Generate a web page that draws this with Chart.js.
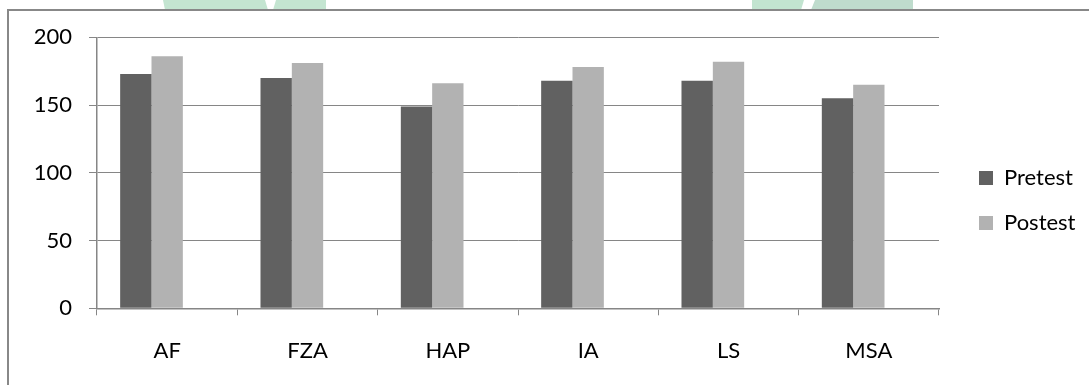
<!DOCTYPE html>
<html>
<head>
<meta charset="utf-8">
<script src="https://cdn.jsdelivr.net/npm/chart.js@4/dist/chart.umd.min.js"></script>
<style>
  html, body { margin: 0; padding: 0; background: #fff; }
  #wrap { width: 1089px; height: 385px; position: relative; }
</style>
</head>
<body>
<div id="wrap"><canvas id="c" width="1089" height="385"></canvas></div>
<script>
const categories = ['AF', 'FZA', 'HAP', 'IA', 'LS', 'MSA'];
const pretest = [173, 170, 149, 168, 168, 155];
const postest = [186, 181, 166, 178, 182, 165];
const seriesNames = ['Pretest', 'Postest'];
const yTickValues = [0, 50, 100, 150, 200];

const FONT = 'Lato';
const FS = 22;
const GRID = '#868686';

// legend geometry
const legendPad = 23;
const boxW = 14;
const mctx = document.createElement('canvas').getContext('2d');
mctx.font = FS + 'px ' + FONT;
const maxTextW = Math.max(...seriesNames.map(s => mctx.measureText(s).width));
const legendW = legendPad + boxW + FS / 2 + maxTextW + 10;
const plotRight = 939, legendLeft = 956;
const rightPad = Math.max(0, 1089 - legendLeft - legendW);

const decor = {
  id: 'decor',
  beforeDraw(chart) {
    const ctx = chart.ctx;
    ctx.save();
    ctx.fillStyle = '#fff';
    ctx.fillRect(0, 0, chart.width, chart.height);
    // faint watermark pieces above the frame
    ctx.fillStyle = '#c4e5d1';
    ctx.beginPath(); ctx.moveTo(163, 0); ctx.lineTo(265, 0); ctx.lineTo(268, 10); ctx.lineTo(165, 10); ctx.closePath(); ctx.fill();
    ctx.beginPath(); ctx.moveTo(276, 0); ctx.lineTo(326, 0); ctx.lineTo(326, 10); ctx.lineTo(273, 10); ctx.closePath(); ctx.fill();
    ctx.fillStyle = '#c2e4d0';
    ctx.beginPath(); ctx.moveTo(752, 0); ctx.lineTo(804, 0); ctx.lineTo(801, 10); ctx.lineTo(752, 10); ctx.closePath(); ctx.fill();
    ctx.fillStyle = '#bfdccd';
    ctx.beginPath(); ctx.moveTo(815, 0); ctx.lineTo(913, 0); ctx.lineTo(913, 10); ctx.lineTo(811, 10); ctx.closePath(); ctx.fill();
    // outer frame
    ctx.fillStyle = '#fff';
    ctx.fillRect(8, 10, chart.width, chart.height);
    ctx.strokeStyle = '#888888';
    ctx.lineWidth = 2;
    ctx.beginPath();
    ctx.moveTo(8, chart.height + 2); ctx.lineTo(8, 10); ctx.lineTo(chart.width + 2, 10);
    ctx.stroke();
    ctx.restore();
  }
};

new Chart(document.getElementById('c'), {
  type: 'bar',
  data: {
    labels: categories,
    datasets: [
      { label: seriesNames[0], data: pretest, backgroundColor: '#616161', borderWidth: 0 },
      { label: seriesNames[1], data: postest, backgroundColor: '#b2b2b2', borderWidth: 0 },
      { label: '', data: [], backgroundColor: 'rgba(0,0,0,0)', borderWidth: 0 }
    ]
  },
  options: {
    responsive: false,
    animation: false,
    devicePixelRatio: 1,
    categoryPercentage: 0.67,
    barPercentage: 1.0,
    layout: { padding: { top: 37.3, left: 0, bottom: 0, right: rightPad } },
    plugins: {
      tooltip: { enabled: false },
      legend: {
        position: 'right',
        fullSize: false,
        align: 'center',
        title: { display: true, text: '', font: { size: 10, lineHeight: 1 }, padding: { top: 45.4, bottom: 0 } },
        labels: {
          filter: (item) => item.datasetIndex < 2,
          boxWidth: boxW, boxHeight: 14, padding: legendPad,
          color: '#000',
          font: { family: FONT, size: FS }
        }
      }
    },
    scales: {
      x: {
        offset: true,
        grid: { display: true, drawOnChartArea: false, drawTicks: true, tickLength: 7, color: GRID, offset: true },
        border: { display: true, color: GRID, width: 1.5 },
        ticks: { color: '#000', padding: 22, font: { family: FONT, size: FS } },
        afterFit: (s) => { s.height = 385 - 308.3; }
      },
      y: {
        min: 0, max: 200,
        afterBuildTicks: (s) => { s.ticks = yTickValues.map(v => ({ value: v })); },
        grid: { color: GRID, lineWidth: 1, tickLength: 8, tickColor: GRID },
        border: { display: true, color: GRID, width: 1.5 },
        ticks: { color: '#000', padding: 17, font: { family: FONT, size: FS } },
        afterFit: (s) => { s.width = 97; }
      },
      spacer: {
        position: 'right',
        display: true,
        grid: { display: false, drawOnChartArea: false },
        border: { display: false },
        ticks: { display: false },
        afterFit: (s) => { s.width = legendLeft - plotRight; }
      }
    }
  },
  plugins: [decor]
});
</script>
</body>
</html>
